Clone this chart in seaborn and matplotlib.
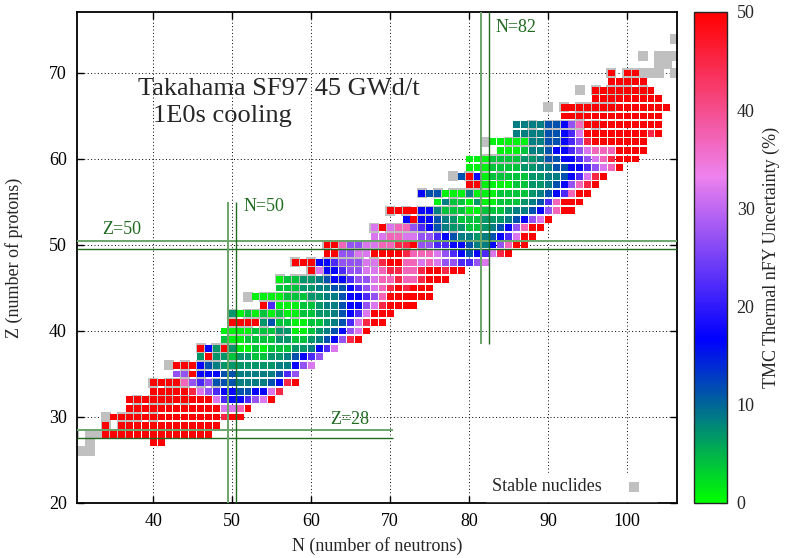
"""
Chart of nuclides coloured by the TMC thermal fission-yield uncertainty,
Takahama SF97 sample (45 GWd/t, 1E0s cooling). Stable nuclides in grey.
"""

import matplotlib
matplotlib.use("Agg")
import matplotlib.pyplot as plt
from matplotlib.colors import LinearSegmentedColormap, Normalize
import pandas as pd
import seaborn as sns

# uncertainty (%) behind each colour code
LEVELS = {"g": 1, "G": 4, "m": 7, "t": 8.5, "c": 11.5, "b": 17, "u": 22,
          "v": 27, "p": 32, "k": 37, "r": 45, "R": 50}

# one entry per proton number: first neutron number of the row and one code per cell ('.' = no cell)
ROW_Z = list(range(27, 71))
ROW_START = [40, 34, 34, 35, 37, 37, 40, 40, 43, 43, 46, 46, 49, 49, 50, 50, 54, 53, 56, 56, 60, 58,
             62, 62, 68, 68, 72, 70, 76, 74, 80, 79, 80, 80, 84, 83, 86, 86, 92, 92, 96, 96, 98, 98]
ROW_CODES = [
    "RR",
    "RRRRRRRRRRRRRR",
    "R.RRRRRRRRRRRRR",
    "RRRRRRRRRRRRRRrRR",
    "RRRRRRRRRRRRppkR",
    "RRRRRRRRRRRpubbuvpR",
    "RRRRRrpvubbccbbpr",
    "RRRRkvuvcccttttcbrR",
    "vvRbbbcctttttcuv",
    "RRRbctmmmmmmmttbvp",
    "mRmmGmmGGmmtcbuv",
    "RbmRmggGgGGGmmtbup",
    "GggGGGGmmGGmtcbvrR",
    "ggggGGGmmggGmtcbvpR",
    "RRRRmcGGggGGmtcuprRR",
    "mgGgGgGggGGmmtcbupRRR",
    "RugggGGmttcbbvprRRRR",
    "ggggGGGmmttcbbuvkRRRRRR",
    "GGGmmttccbuvpkrRrRRR",
    "gGGmmtcbbuvvpkkrkkrRRR",
    "RpbbuvvppkrrkkrRRrRR",
    "RRRbbuvvvpprRRkkpkpvvuuvp",
    "RRvvppRRRRrkkkpvubcbuprR",
    "RRkvvppkkrrRvvuubbcttbvkRR",
    "ppkkppvvubcttmtcbupRR",
    "pRpkkvubctmmGGmtcbvkRR",
    "bRbbctmGGGmmmtcbvpR",
    "RRRRbbtGGGggGGGmttcbvkRR",
    "gtGGgmggGGGmtcukRRR",
    "bccgggtgggGGGGmtcbukRR",
    "RRggggGGmmtcbvkrR",
    "cRbgGGGGGmmttcbuprR",
    "gggGGGGmmttccbbuvpkR",
    "gggGGGGmmtccbbuvpkrRRR",
    "gggGttcbbuvpkkkRRRR",
    "gggggttccbuvrRRRRRRR",
    "ttttccbupRRRRRRRRrR",
    "ttttccbvkRRRRRRRRRR",
    "RRRRRRRRRRRRR",
    "RRRRRRRRRRRRRR",
    "RRRRRRRRR",
    "RRRRRRRR",
    "RRRRR",
    "R.RR",
]

# stable nuclides (neutron number, proton number)
STABLE_N = [28, 30, 31, 32, 32, 30, 32, 33, 34, 36, 34, 36, 34, 36, 37, 38, 40, 38, 40,
            38, 40, 41, 42, 44, 42, 40, 42, 43, 44, 46, 48, 44, 46, 42, 44, 46, 47, 48, 50,
            48, 50, 46, 48, 49, 50, 50, 50, 51, 52, 54, 56, 52, 50, 52, 53, 54, 55, 56, 58,
            52, 54, 55, 56, 57, 58, 60, 58, 56, 58, 59, 60, 62, 64, 60, 62,
            58, 60, 62, 63, 64, 65, 66, 68, 64, 66, 62, 64, 65, 66, 67, 68, 69, 70, 72, 74,
            70, 72, 68, 70, 71, 72, 73, 74, 76, 78, 74, 70, 72, 74, 75, 76, 77, 78, 80, 82,
            78, 74, 76, 78, 79, 80, 81, 82, 81, 82, 78, 80, 82, 84, 82, 82, 83, 84, 85, 86, 88, 90,
            82, 85, 86, 87, 88, 90, 92, 88, 90, 88, 90, 91, 92, 93, 94, 96, 94,
            90, 92, 94, 95, 96, 97, 98, 98, 94, 96, 98, 99, 100, 102, 100,
            98, 100, 101, 102, 103, 104, 106, 104, 105, 102, 104, 105, 106, 107, 108, 107, 108, 106, 108]
STABLE_Z = [26, 26, 26, 26, 27, 28, 28, 28, 28, 28, 29, 29, 30, 30, 30, 30, 30, 31, 31,
            32, 32, 32, 32, 32, 33, 34, 34, 34, 34, 34, 34, 35, 35, 36, 36, 36, 36, 36, 36,
            37, 37, 38, 38, 38, 38, 39, 40, 40, 40, 40, 40, 41, 42, 42, 42, 42, 42, 42, 42,
            44, 44, 44, 44, 44, 44, 44, 45, 46, 46, 46, 46, 46, 46, 47, 47,
            48, 48, 48, 48, 48, 48, 48, 48, 49, 49, 50, 50, 50, 50, 50, 50, 50, 50, 50, 50,
            51, 51, 52, 52, 52, 52, 52, 52, 52, 52, 53, 54, 54, 54, 54, 54, 54, 54, 54, 54,
            55, 56, 56, 56, 56, 56, 56, 56, 57, 57, 58, 58, 58, 58, 59, 60, 60, 60, 60, 60, 60, 60,
            62, 62, 62, 62, 62, 62, 62, 63, 63, 64, 64, 64, 64, 64, 64, 64, 65,
            66, 66, 66, 66, 66, 66, 66, 67, 68, 68, 68, 68, 68, 68, 69,
            70, 70, 70, 70, 70, 70, 70, 71, 71, 72, 72, 72, 72, 72, 72, 73, 73, 74, 74]

# magic numbers marked with a pair of lines
MAGIC_Z = [28, 50]
MAGIC_N = [50, 82]

GREEN = "#1f6b1f"
LIGHT_GREEN = "#6aa66a"


def build_cells():
    rows = []
    for z, n0, codes in zip(ROW_Z, ROW_START, ROW_CODES):
        for i, ch in enumerate(codes):
            if ch != ".":
                rows.append((n0 + i, z, LEVELS[ch]))
    return pd.DataFrame(rows, columns=["N", "Z", "unc"])


cells = build_cells()
cmap = LinearSegmentedColormap.from_list(
    "tmc", [(0.0, "#00ff00"), (1 / 3, "#0000ff"), (2 / 3, "#ee82ee"), (1.0, "#ff0000")])

sns.set_style("ticks")
plt.rcParams["font.family"] = ["Liberation Serif", "DejaVu Serif"]

fig = plt.figure(figsize=(7.85, 5.58), dpi=100)
ax = fig.add_axes([0.0975, 0.0986, 0.765, 0.88])
cax = fig.add_axes([0.884, 0.0986, 0.042, 0.88])

ax.grid(True, color="black", linestyle=(0, (1, 2.5)), linewidth=0.7)
ax.set_axisbelow(True)

sns.scatterplot(x=STABLE_N, y=STABLE_Z, marker="s", s=52, color="#c0c0c0",
                linewidth=0, ax=ax, label="Stable nuclides", zorder=2)
sns.scatterplot(data=cells, x="N", y="Z", hue="unc", palette=cmap, hue_norm=(0, 50),
                marker="s", s=25, linewidth=0, legend=False, ax=ax, zorder=3)

xlo, xhi = 30.3, 106.3
ylo, yhi = 20, 77.1

# magic-number guide lines
ax.hlines(MAGIC_Z[0] + 0.5, xlo, 70.3, color=LIGHT_GREEN, lw=1.4, zorder=4)
ax.hlines(MAGIC_Z[0] - 0.5, xlo, 70.3, color=GREEN, lw=1.0, zorder=4)
ax.hlines(MAGIC_Z[1] + 0.5, xlo, xhi, color=LIGHT_GREEN, lw=1.4, zorder=4)
ax.hlines(MAGIC_Z[1] - 0.5, xlo, xhi, color=GREEN, lw=1.0, zorder=4)
ax.vlines(MAGIC_N[0] - 0.5, ylo, 55, color=LIGHT_GREEN, lw=1.4, zorder=4)
ax.vlines(MAGIC_N[0] + 0.5, ylo, 55, color=GREEN, lw=1.0, zorder=4)
ax.vlines(MAGIC_N[1] - 0.5, 38.5, yhi, color=LIGHT_GREEN, lw=1.4, zorder=4)
ax.vlines(MAGIC_N[1] + 0.5, 38.5, yhi, color=GREEN, lw=1.0, zorder=4)

ax.text(33.5, 51.3, "Z=50", color=GREEN, fontsize=13, va="baseline")
ax.text(51.4, 53.9, "N=50", color=GREEN, fontsize=13, va="baseline")
ax.text(62.35, 29.2, "Z=28", color=GREEN, fontsize=13, va="baseline")
ax.text(83.3, 74.8, "N=82", color=GREEN, fontsize=13, va="baseline")

ax.text(38.1, 67.45, "Takahama SF97 45 GWd/t", fontsize=19, va="baseline")
ax.text(40.0, 64.35, "1E0s cooling", fontsize=19, va="baseline")

ax.set_xlim(xlo, xhi)
ax.set_ylim(ylo, yhi)
ax.set_xticks(range(40, 101, 10))
ax.set_yticks(range(20, 71, 10))
ax.tick_params(direction="in", top=True, right=True, length=5, width=1,
               labelsize=13, pad=7, colors="black")
for sp in ax.spines.values():
    sp.set_linewidth(1.3)
    sp.set_color("black")
ax.set_xlabel("N (number of neutrons)", fontsize=13, labelpad=5)
ax.set_ylabel("Z (number of protons)", fontsize=13, labelpad=19)

leg = ax.legend(loc="center right", bbox_to_anchor=(0.967, 0.033), markerfirst=False,
                frameon=True, fancybox=False, edgecolor="white", facecolor="white",
                framealpha=1, fontsize=13, handletextpad=0.8, borderpad=0.3, borderaxespad=0)

sm = plt.cm.ScalarMappable(norm=Normalize(0, 50), cmap=cmap)
cb = fig.colorbar(sm, cax=cax, ticks=range(0, 51, 10))
cb.outline.set_linewidth(1.0)
cax.tick_params(direction="in", left=True, right=True, length=5, width=0.8,
                labelsize=13, pad=7, color="0.25")
cb.set_label("TMC Thermal nFY Uncertainty (%)", fontsize=13, labelpad=6)

fig.savefig("out.png", dpi=100)
